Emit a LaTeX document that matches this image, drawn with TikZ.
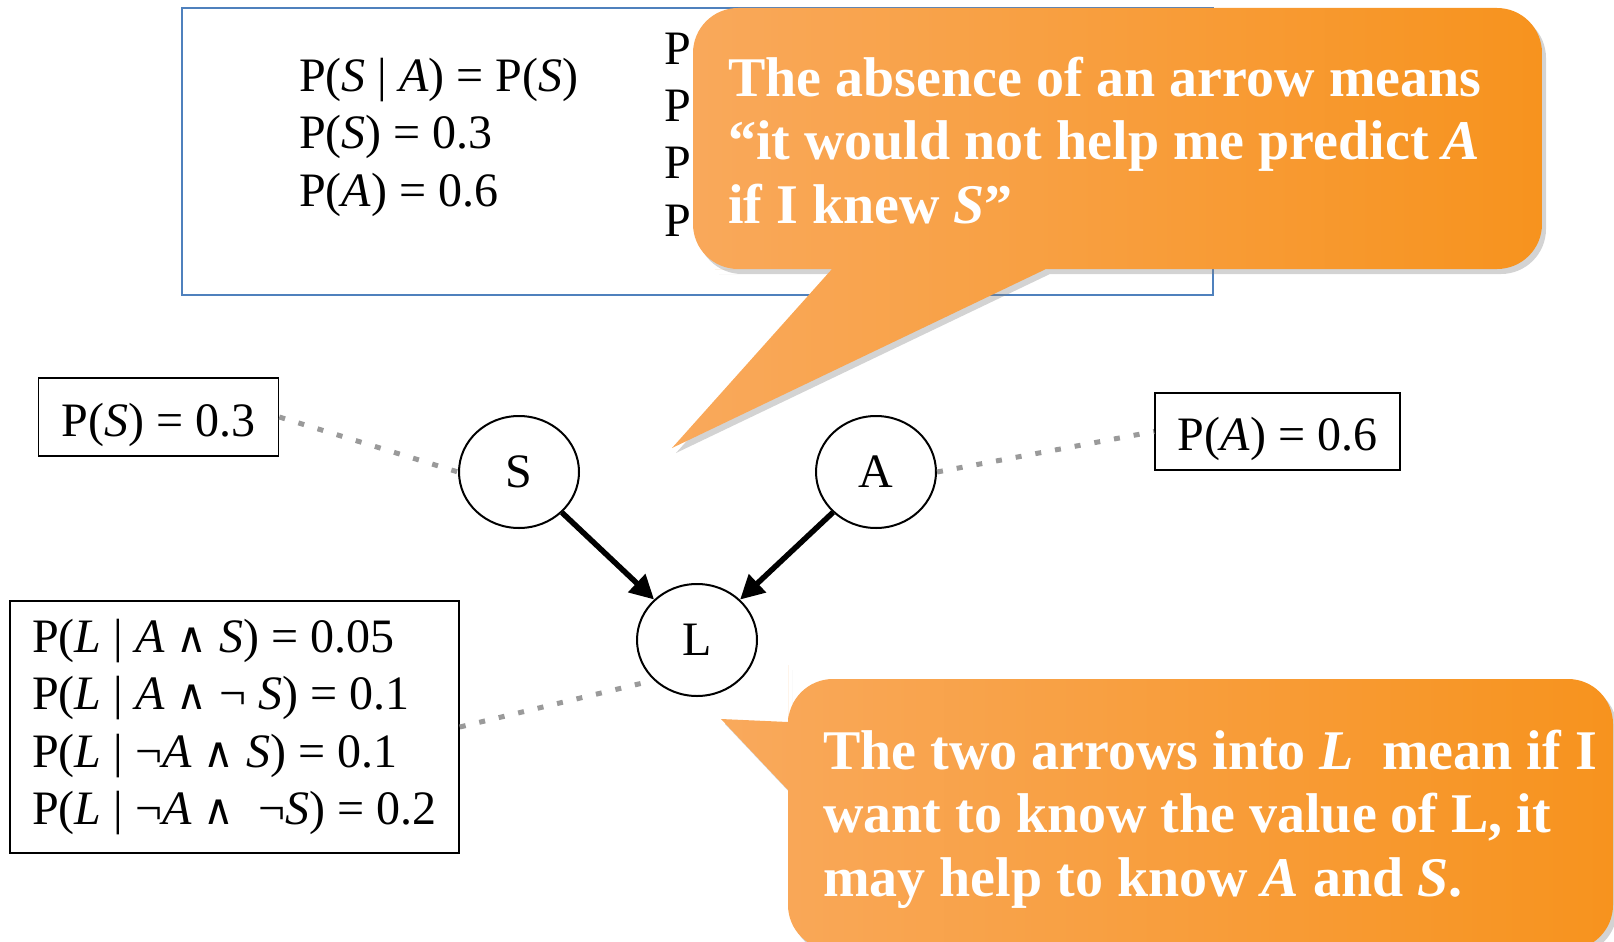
\documentclass[tikz,border=0pt]{standalone}
\usepackage{fontspec}
\setmainfont{Liberation Serif}
\newfontfamily\symfont{DejaVu Serif}
\usepackage{tikz}
\usetikzlibrary{arrows.meta,positioning,shapes.geometric,shadows}
\definecolor{BNBlue}{HTML}{4F81BD}
\definecolor{BNGrey}{HTML}{9A9A9A}
\definecolor{BNOrange}{HTML}{F9A95C}
\definecolor{BNDeep}{HTML}{F7931E}
\newcommand\bodyfont{\fontsize{48}{57.3}\selectfont}
\newcommand\notefont{\fontsize{56}{63.5}\selectfont\bfseries}
\newcommand\andsym{{\symfont\fontsize{42}{57.3}\selectfont ∧}}

\begin{document}
\begin{tikzpicture}[x=1pt,y=-1pt,
  prob/.style={draw,line width=1.6pt,font=\bodyfont,align=left,inner sep=0pt},
  pbox/.style={prob,text height=38pt,text depth=0pt},
  var/.style={ellipse,draw,line width=2pt,minimum width=120pt,minimum height=112pt,font=\bodyfont,inner sep=0pt},
  arr/.style={-{Triangle[length=24pt,width=24pt]},line width=5.5pt},
  link/.style={draw=BNGrey,line width=5pt,dash pattern=on 6pt off 14pt},
  cell/.style={font=\bodyfont,align=left,inner sep=0pt,anchor=base west},
  bubble/.style={left color=BNOrange,right color=BNDeep,drop shadow={opacity=0.35,shadow xshift=4pt,shadow yshift=-5pt}},
  note/.style={text=white,font=\notefont,align=left,inner sep=0pt,anchor=base west}
]
\useasboundingbox (0,0) rectangle (1614,942);
\clip (0,0) rectangle (1614,942);

% given facts (multi-line nodes sit on their last baseline)
\node[draw=BNBlue,line width=1.5pt,minimum width=1031pt,minimum height=287pt] (given) at (697.5,151.5) {};
\node[cell] (facts) at (299,206) {P(\textit{S} | \textit{A}) = P(\textit{S})\\P(\textit{S}) = 0.3\\P(\textit{A}) = 0.6};
\node[cell] (hidden) at (664,236) {P\\P\\P\\P};

% network
\node[var] (S) at (519,472) {S};
\node[var] (A) at (876,472) {A};
\node[var] (L) at (697,640) {L};
\node[pbox,minimum width=240pt,minimum height=78pt] (ps) at (158.5,417) {P(\textit{S}) = 0.3};
\node[pbox,minimum width=245pt,minimum height=77pt] (pa) at (1277.5,431.5) {P(\textit{A}) = 0.6};
\node[prob,minimum width=449pt,minimum height=252pt] (cpt) at (234.5,727) {P(\textit{L} | \textit{A} \andsym\ \textit{S}) = 0.05\\P(\textit{L} | \textit{A} \andsym{} ¬ \textit{S}) = 0.1\\P(\textit{L} | ¬\textit{A} \andsym\ \textit{S}) = 0.1\\P(\textit{L} | ¬\textit{A} \andsym~ ¬\textit{S}) = 0.2};

\draw[arr] (S) -- (L);
\draw[arr] (A) -- (L);
\draw[link] (ps.east) -- (S.west);
\draw[link] (A.east) -- (pa.west);
\draw[link] (cpt.east) -- (L.south west);

% callouts
\path[bubble] (832,269) -- (672,448) -- (1046,269) -- (1100,269)
  [rounded corners=45pt] -- (1542,269) -- (1542,8) -- (693,8) -- (693,269) -- (760,269)
  [sharp corners] -- cycle;
\node[note] (why) at (728,223) {The absence of an arrow means\\“it would not help me predict \textit{A}\\if I knew \textit{S}”};

\path[bubble] (788,722) -- (721,719) -- (788,790) -- (788,800)
  [rounded corners=45pt] -- (788,950) -- (1613,950) -- (1613,679) -- (788,679) -- (788,710)
  [sharp corners] -- cycle;
\node[note] (how) at (823,896) {The two arrows into \textit{L}~ mean if I\\want to know the value of L, it\\may help to know \textit{A} and \textit{S}.};
\end{tikzpicture}
\end{document}
